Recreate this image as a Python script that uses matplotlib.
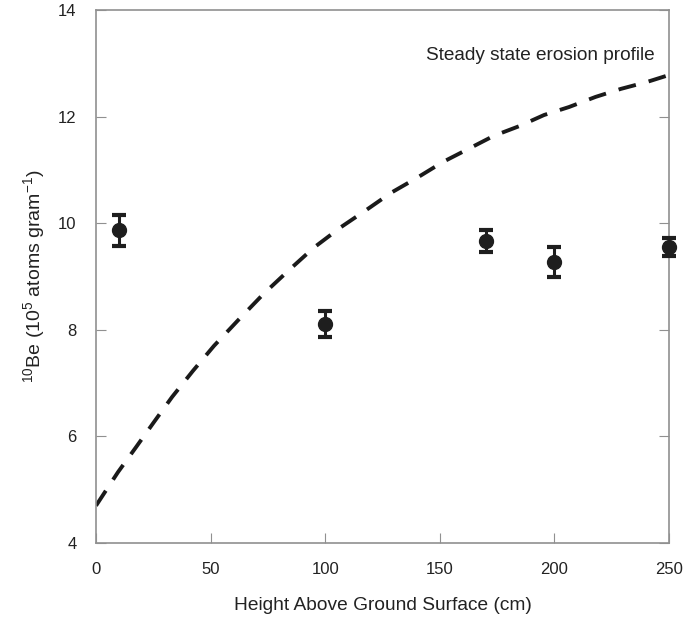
import matplotlib
matplotlib.use("Agg")
import matplotlib.pyplot as plt

plt.rcParams['font.family'] = ['Liberation Sans', 'DejaVu Sans']
plt.rcParams['mathtext.default'] = 'regular'

# measured samples
height = [10, 100, 170, 200, 250]
be10 = [9.87, 8.11, 9.67, 9.27, 9.55]
be10_err = [0.29, 0.24, 0.21, 0.28, 0.17]

# steady state erosion profile
profile_x = [0, 9.6, 17.5, 25.3, 33.2, 42.3, 51.5, 62, 73, 84.2, 95, 107, 118,
             128.7, 140, 151.4, 162.3, 173.6, 184.6, 195.5, 206.4, 218, 229, 240.4, 250]
profile_y = [4.7, 5.33, 5.8, 6.27, 6.74, 7.23, 7.7, 8.18, 8.67, 9.12, 9.54, 9.93, 10.25,
             10.57, 10.85, 11.15, 11.39, 11.64, 11.82, 12.03, 12.18, 12.37, 12.52, 12.65, 12.78]

fig = plt.figure(figsize=(6.97, 6.22), dpi=100)
ax = fig.add_axes([96/697, 1 - 543/622, (669-96)/697, (543-10)/622])

ax.plot(profile_x, profile_y, color='#1a1a1a', lw=2.8, dashes=(4.6, 3.4))
ax.errorbar(height, be10, yerr=be10_err, fmt='o', color='#1e1e1e', ms=10,
            elinewidth=2.2, capsize=5, capthick=3, clip_on=False, zorder=5)

ax.set_xlim(0, 250)
ax.set_ylim(4, 14)
ax.set_xticks([0, 50, 100, 150, 200, 250])
ax.set_yticks([4, 6, 8, 10, 12, 14])
for s in ax.spines.values():
    s.set_color('#909090')
    s.set_linewidth(1.2)
ax.tick_params(direction='in', length=7, color='#909090', labelsize=12,
               labelcolor='#222222', pad=14, right=True)

ax.text(0.975, 0.915, 'Steady state erosion profile', transform=ax.transAxes,
        ha='right', va='center', fontsize=13.7, color='#222222')
ax.set_xlabel('Height Above Ground Surface (cm)', fontsize=13.8, color='#222222', labelpad=14)
ax.set_ylabel('$^{10}$Be (10$^{5}$ atoms gram$^{-1}$)', fontsize=14, color='#222222', labelpad=8)

fig.savefig('out.png', dpi=100)
